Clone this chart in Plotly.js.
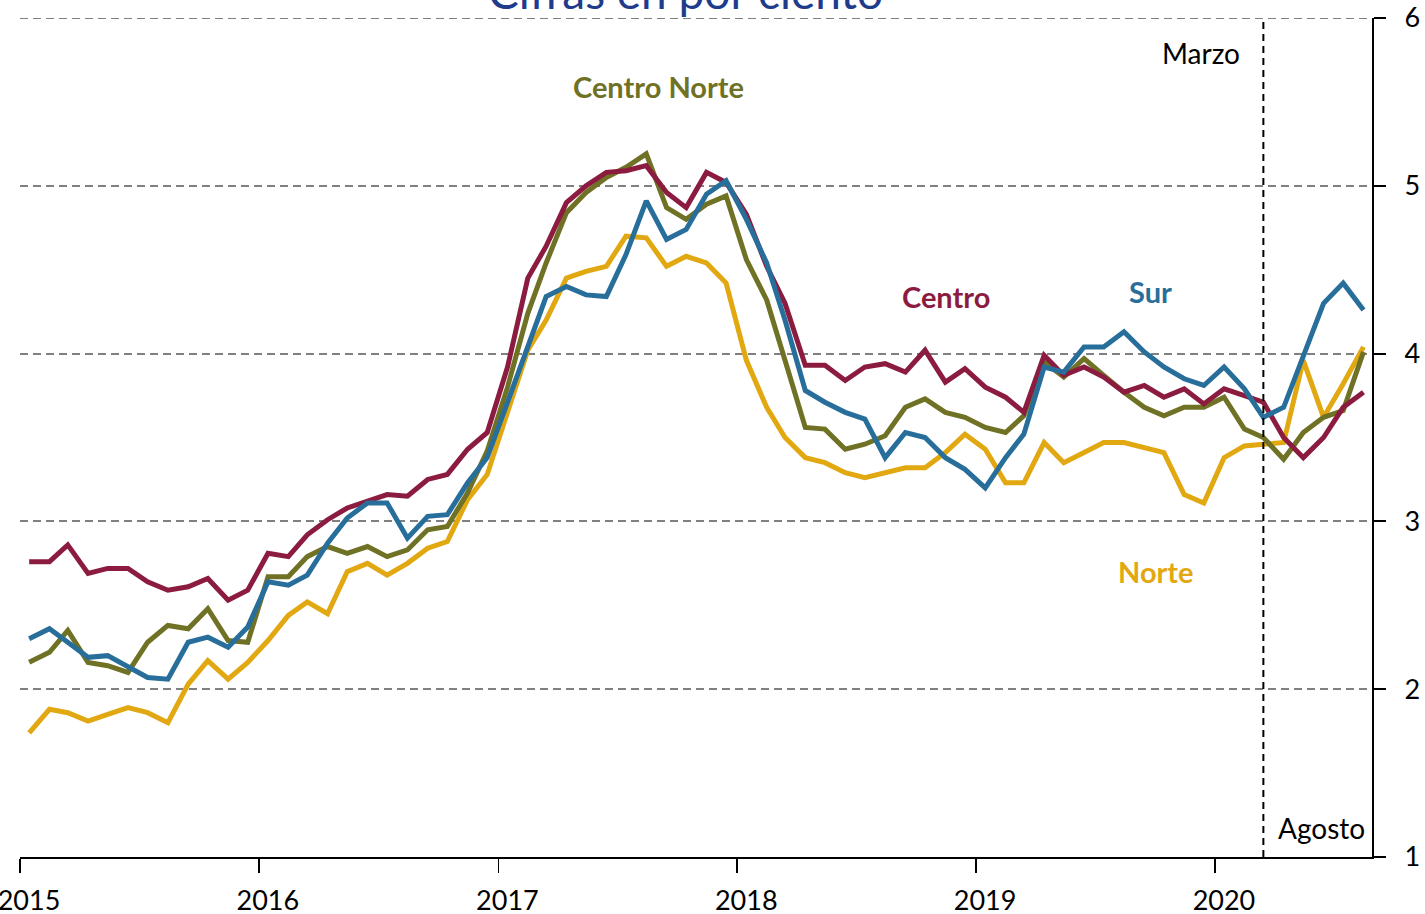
<!DOCTYPE html>
<html>
<head>
<meta charset="utf-8">
<script src="https://cdn.plot.ly/plotly-3.0.1.min.js"></script>
<style>
  html, body { margin: 0; padding: 0; background: #ffffff; }
  #chart { width: 1425px; height: 914px; }
</style>
</head>
<body>
<div id="chart"></div>
<script>
// Monthly series, January 2015 – August 2020 (68 months)
const startYear = 2015;
const nMonths = 68;

const centro = [
  2.76, 2.76, 2.86, 2.69, 2.72, 2.72, 2.64, 2.59, 2.61, 2.66, 2.53, 2.59,
  2.81, 2.79, 2.92, 3.01, 3.08, 3.12, 3.16, 3.15, 3.25, 3.28, 3.43, 3.53,
  3.92, 4.45, 4.64, 4.90, 5.00, 5.08, 5.09, 5.12, 4.96, 4.87, 5.08, 5.02,
  4.83, 4.52, 4.30, 3.93, 3.93, 3.84, 3.92, 3.94, 3.89, 4.02, 3.83, 3.91,
  3.80, 3.74, 3.65, 3.99, 3.87, 3.92, 3.86, 3.77, 3.81, 3.74, 3.79, 3.70,
  3.79, 3.75, 3.71, 3.50, 3.38, 3.50, 3.68, 3.77
];

const centroNorte = [
  2.16, 2.22, 2.35, 2.16, 2.14, 2.10, 2.28, 2.38, 2.36, 2.48, 2.29, 2.28,
  2.67, 2.67, 2.79, 2.85, 2.81, 2.85, 2.79, 2.83, 2.95, 2.97, 3.17, 3.42,
  3.80, 4.24, 4.54, 4.84, 4.96, 5.05, 5.11, 5.19, 4.87, 4.80, 4.89, 4.94,
  4.56, 4.32, 3.96, 3.56, 3.55, 3.43, 3.46, 3.51, 3.68, 3.73, 3.65, 3.62,
  3.56, 3.53, 3.63, 3.95, 3.86, 3.97, 3.87, 3.77, 3.68, 3.63, 3.68, 3.68,
  3.74, 3.55, 3.50, 3.37, 3.53, 3.62, 3.66, 4.01
];

const sur = [
  2.30, 2.36, 2.28, 2.19, 2.20, 2.13, 2.07, 2.06, 2.28, 2.31, 2.25, 2.37,
  2.64, 2.62, 2.68, 2.87, 3.02, 3.11, 3.11, 2.90, 3.03, 3.04, 3.23, 3.38,
  3.71, 4.04, 4.34, 4.40, 4.35, 4.34, 4.59, 4.91, 4.68, 4.74, 4.95, 5.03,
  4.80, 4.54, 4.20, 3.78, 3.71, 3.65, 3.61, 3.38, 3.53, 3.50, 3.38, 3.31,
  3.20, 3.38, 3.52, 3.92, 3.89, 4.04, 4.04, 4.13, 4.01, 3.92, 3.85, 3.81,
  3.92, 3.79, 3.62, 3.68, 3.98, 4.30, 4.42, 4.26
];

const norte = [
  1.74, 1.88, 1.86, 1.81, 1.85, 1.89, 1.86, 1.80, 2.03, 2.17, 2.06, 2.16,
  2.29, 2.44, 2.52, 2.45, 2.70, 2.75, 2.68, 2.75, 2.84, 2.88, 3.13, 3.28,
  3.65, 4.02, 4.20, 4.45, 4.49, 4.52, 4.70, 4.69, 4.52, 4.58, 4.54, 4.42,
  3.96, 3.68, 3.50, 3.38, 3.35, 3.29, 3.26, 3.29, 3.32, 3.32, 3.41, 3.52,
  3.43, 3.23, 3.23, 3.47, 3.35, 3.41, 3.47, 3.47, 3.44, 3.41, 3.16, 3.11,
  3.38, 3.45, 3.46, 3.47, 3.96, 3.62, 3.82, 4.04
];

const yearLabels = ['2015', '2016', '2017', '2018', '2019', '2020'];
const yTickVals = [1, 2, 3, 4, 5, 6];
const yMax = 6;
const markerMonth = '2020-03-15';   // "Marzo" reference line

// mid-month dates for each observation
function pad(n) { return (n < 10 ? '0' : '') + n; }
const dates = [];
for (let i = 0; i < nMonths; i++) {
  const y = startYear + Math.floor(i / 12);
  const m = (i % 12) + 1;
  dates.push(y + '-' + pad(m) + '-15');
}
const yearTicks = yearLabels.map(y => y + '-01-01');

const FONT = 'Lato, "Open Sans", "DejaVu Sans", sans-serif';
const colors = {
  norte: '#E2A811',
  centroNorte: '#6F7124',
  centro: '#8B1C3F',
  sur: '#286E9B'
};
const GRID = '#808080';

function series(name, vals, color) {
  return {
    type: 'scatter', mode: 'lines', name: name,
    x: dates, y: vals,
    line: { color: color, width: 5, shape: 'linear' },
    hoverinfo: 'x+y+name'
  };
}

const traces = [
  series('Norte', norte, colors.norte),
  series('Centro Norte', centroNorte, colors.centroNorte),
  series('Centro', centro, colors.centro),
  series('Sur', sur, colors.sur)
];

function label(text, x, y, color, bold, size, xanchor) {
  return {
    text: bold ? '<b>' + text + '</b>' : text,
    xref: 'paper', yref: 'y', x: x, y: y,
    xanchor: xanchor || 'center', yanchor: 'middle',
    showarrow: false,
    font: { family: FONT, size: size, color: color }
  };
}

const layout = {
  width: 1425, height: 914,
  margin: { l: 20, r: 53, t: 18, b: 57 },
  paper_bgcolor: '#ffffff',
  plot_bgcolor: '#ffffff',
  showlegend: false,
  xaxis: {
    type: 'date',
    range: ['2015-01-01', '2020-08-28'],
    tickvals: yearTicks,
    ticktext: yearLabels,
    ticks: 'outside', ticklen: 14, tickwidth: 1.5, tickcolor: '#000000',
    showline: true, linecolor: '#000000', linewidth: 2,
    showgrid: false, zeroline: false,
    tickfont: { family: FONT, size: 27, color: '#000000' },
    ticklabelshift: 9,
    ticklabelstandoff: 5,
    ticklabeloverflow: 'allow',
    fixedrange: true
  },
  yaxis: {
    side: 'right',
    range: [1, yMax],
    tickvals: yTickVals,
    ticks: 'outside', ticklen: 12, tickwidth: 2, tickcolor: '#000000',
    showline: true, linecolor: '#000000', linewidth: 2,
    showgrid: true, gridcolor: GRID, gridwidth: 2, griddash: '8px,5px',
    zeroline: false,
    tickfont: { family: FONT, size: 27, color: '#000000' },
    ticklabelstandoff: 13,
    ticklabeloverflow: 'allow',
    fixedrange: true
  },
  shapes: [
    {
      type: 'line', xref: 'paper', yref: 'y',
      x0: 0, x1: 1, y0: yMax, y1: yMax,
      line: { color: GRID, width: 2, dash: '8px,5px' }
    },
    {
      type: 'line', xref: 'x', yref: 'paper',
      x0: markerMonth, x1: markerMonth, y0: 0, y1: 1,
      line: { color: '#000000', width: 2, dash: '7px,5px' }
    }
  ],
  annotations: [
    {
      text: 'Cifras en por ciento',
      xref: 'paper', yref: 'paper', x: 0.492, y: 1.032,
      xanchor: 'center', yanchor: 'middle', showarrow: false,
      font: { family: FONT, size: 46, color: '#1F3B8C' }
    },
    label('Centro Norte', 0.4726, 5.59, colors.centroNorte, true, 29),
    label('Centro', 0.685, 4.34, colors.centro, true, 29),
    label('Sur', 0.836, 4.37, colors.sur, true, 29),
    label('Norte', 0.840, 2.70, colors.norte, true, 29),
    label('Marzo', 0.904, 5.79, '#000000', false, 28, 'right'),
    label('Agosto', 0.963, 1.17, '#000000', false, 28)
  ]
};

Plotly.newPlot('chart', traces, layout, { displayModeBar: false, staticPlot: true });
</script>
</body>
</html>
